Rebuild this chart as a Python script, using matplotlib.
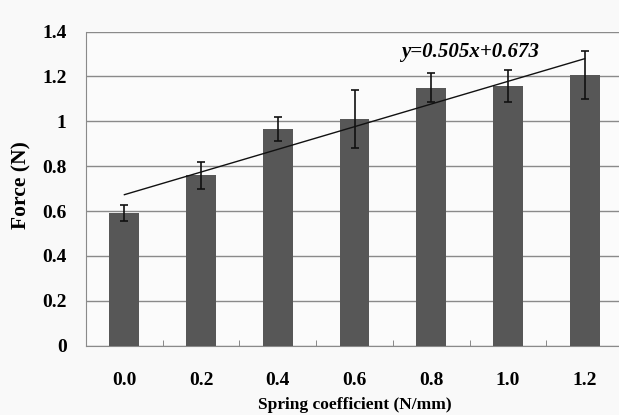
import numpy as np
from matplotlib import pyplot as plt
from matplotlib.ticker import FuncFormatter, MultipleLocator

spring = [0.0, 0.2, 0.4, 0.6, 0.8, 1.0, 1.2]
force = [0.59, 0.76, 0.965, 1.01, 1.15, 1.158, 1.207]
force_err = [0.036, 0.06, 0.053, 0.13, 0.065, 0.072, 0.107]
slope, intercept = 0.505, 0.673

plt.rcParams['font.family'] = 'Liberation Serif'
plt.rcParams['font.weight'] = 'bold'
plt.rcParams['axes.labelweight'] = 'bold'

fig = plt.figure(figsize=(6.19, 4.15), dpi=100, facecolor='#f9f9f9')
ax = fig.add_axes([0.139, 0.167, 0.8675, 0.757])
ax.set_facecolor('#fbfbfb')

ax.bar(spring, force, width=0.078, color='#575757', zorder=3)
ax.errorbar(spring, force, yerr=force_err, fmt='none', ecolor='#111111',
            elinewidth=1.2, capsize=3, capthick=1.2, zorder=4)

# linear trend line
xt = np.array([spring[0], spring[-1]])
ax.plot(xt, slope * xt + intercept, color='#111111', lw=1.0, zorder=5)
ax.text(0.90, 1.31, 'y=%.3fx+%.3f' % (slope, intercept), ha='center', va='center',
        fontsize=15, style='italic', weight='bold')

ax.set_xlim(-0.1, 1.3)
ax.set_ylim(0, 1.4)
ax.yaxis.set_major_locator(MultipleLocator(0.2))
ax.yaxis.set_major_formatter(FuncFormatter(lambda v, p: '%g' % round(v, 1)))
ax.set_xticks(spring)
ax.set_xticklabels(['%.1f' % s for s in spring])
ax.set_xticks(np.arange(-0.1, 1.31, 0.2)[1:], minor=True)
ax.grid(axis='y', color='#8a8a8a', lw=1.0, zorder=0)

ax.tick_params(axis='y', length=0, pad=14, labelsize=14)
ax.tick_params(axis='x', which='major', length=0, pad=19, labelsize=14)
ax.tick_params(axis='x', which='minor', direction='in', length=4, color='#777777')

for side in ['top', 'right']:
    ax.spines[side].set_visible(False)
for side in ['left', 'bottom']:
    ax.spines[side].set_color('#8a8a8a')

ax.set_xlabel('Spring coefficient (N/mm)', fontsize=12.5, labelpad=6)
ax.set_ylabel('Force (N)', fontsize=15.5)
ax.yaxis.set_label_coords(-0.102, 0.512)

fig.savefig('out.png', dpi=100, facecolor=fig.get_facecolor())
